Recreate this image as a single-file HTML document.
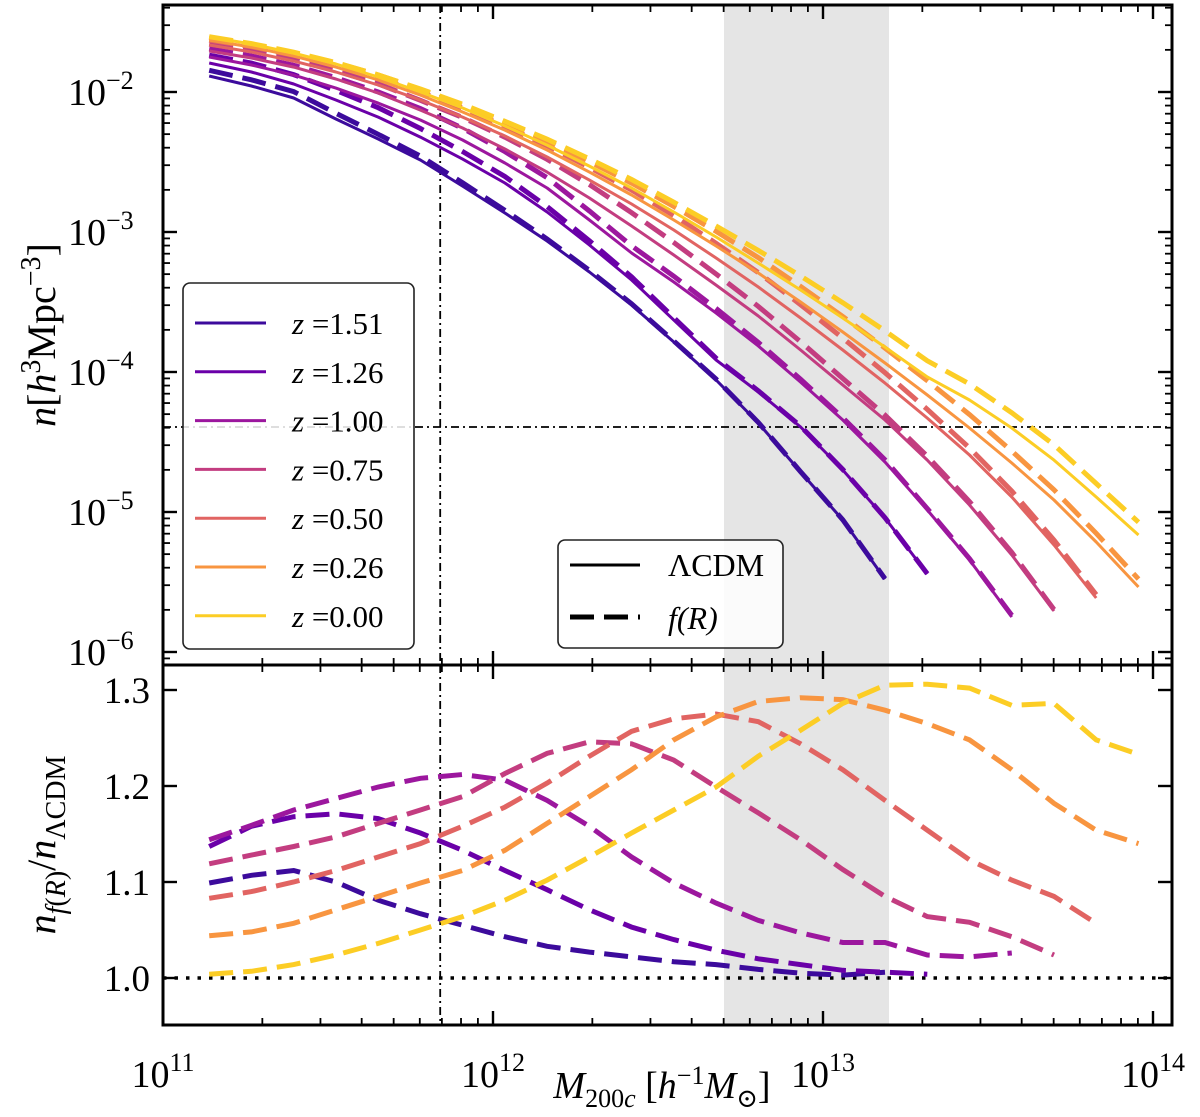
<!DOCTYPE html>
<html><head><meta charset="utf-8"><style>
html,body{margin:0;padding:0;background:#fff;}
svg{display:block;font-family:"Liberation Serif","DejaVu Serif",serif;}
</style></head><body>
<svg id="chart" width="1200" height="1117" viewBox="0 0 1200 1117" xmlns="http://www.w3.org/2000/svg">
<defs>
<clipPath id="clipTop"><rect x="163" y="5" width="1009" height="660"/></clipPath>
<clipPath id="clipBot"><rect x="163" y="665" width="1009" height="360"/></clipPath>
</defs>
<g id="topPanel"></g>
<g id="botPanel"></g>
<g id="axes"></g>
</svg>
<script>
const redshifts = ["1.51","1.26","1.00","0.75","0.50","0.26","0.00"];
const colors = ["#3c0b9c","#6a00a8","#9c179e","#c33d80","#e16462","#f89540","#fccd25"];
const massStart = 11.14;
const massStep = 0.128;
const lcdm151 = [-1.886,-1.957,-2.043,-2.193,-2.336,-2.486,-2.672,-2.864,-3.064,-3.286,-3.522,-3.786,-4.057,-4.364,-4.714,-5.057,-5.479];
const lcdm126 = [-1.793,-1.857,-1.943,-2.057,-2.179,-2.322,-2.479,-2.65,-2.857,-3.093,-3.343,-3.629,-3.914,-4.143,-4.393,-4.7,-5.043,-5.443];
const lcdm100 = [-1.75,-1.807,-1.879,-1.972,-2.079,-2.2,-2.343,-2.507,-2.686,-2.914,-3.15,-3.357,-3.579,-3.814,-4.072,-4.343,-4.643,-4.986,-5.343,-5.75];
const lcdm075 = [-1.707,-1.757,-1.822,-1.907,-2.007,-2.129,-2.257,-2.407,-2.572,-2.757,-2.957,-3.164,-3.379,-3.6,-3.843,-4.093,-4.343,-4.629,-4.95,-5.307,-5.707];
const lcdm050 = [-1.664,-1.714,-1.779,-1.857,-1.95,-2.057,-2.179,-2.314,-2.464,-2.629,-2.8,-2.986,-3.186,-3.393,-3.614,-3.843,-4.079,-4.329,-4.593,-4.893,-5.236,-5.614];
const lcdm026 = [-1.629,-1.679,-1.743,-1.822,-1.914,-2.022,-2.143,-2.272,-2.414,-2.572,-2.736,-2.914,-3.1,-3.293,-3.5,-3.714,-3.936,-4.164,-4.4,-4.65,-4.914,-5.214,-5.536];
const lcdm000 = [-1.607,-1.657,-1.722,-1.8,-1.893,-2.0,-2.114,-2.243,-2.379,-2.529,-2.686,-2.857,-3.036,-3.222,-3.414,-3.614,-3.822,-4.036,-4.2,-4.4,-4.629,-4.893,-5.164];
const ratio151 = [1.099,1.107,1.112,1.100,1.081,1.067,1.055,1.043,1.033,1.027,1.022,1.017,1.014,1.009,1.005,1.003,1.006];
const ratio126 = [1.137,1.158,1.168,1.171,1.166,1.151,1.133,1.112,1.092,1.071,1.053,1.040,1.029,1.020,1.014,1.008,1.006,1.004];
const ratio100 = [1.144,1.159,1.175,1.187,1.199,1.208,1.212,1.206,1.185,1.158,1.126,1.099,1.078,1.060,1.047,1.037,1.037,1.024,1.022,1.026];
const ratio075 = [1.119,1.128,1.137,1.147,1.161,1.175,1.189,1.213,1.234,1.246,1.244,1.227,1.199,1.172,1.144,1.113,1.085,1.064,1.058,1.043,1.024];
const ratio050 = [1.083,1.090,1.100,1.112,1.126,1.140,1.158,1.178,1.203,1.231,1.257,1.270,1.275,1.267,1.244,1.217,1.185,1.154,1.123,1.102,1.085,1.057];
const ratio026 = [1.044,1.048,1.057,1.071,1.085,1.099,1.112,1.133,1.161,1.189,1.217,1.248,1.272,1.288,1.292,1.290,1.279,1.265,1.248,1.217,1.182,1.154,1.140];
const ratio000 = [1.004,1.007,1.014,1.024,1.036,1.050,1.064,1.081,1.102,1.126,1.151,1.175,1.199,1.231,1.258,1.286,1.305,1.306,1.302,1.284,1.286,1.248,1.233];
const xTickExps = ["11","12","13","14"];
const yTopTickExps = ["−2","−3","−4","−5","−6"];
const yBotTicks = [1.0,1.1,1.2,1.3];
const bandRange = [12.7, 13.2];
const vLineMass = 11.84;
const hLineDensity = -4.393;

const lcdmSets = [lcdm151,lcdm126,lcdm100,lcdm075,lcdm050,lcdm026,lcdm000];
const ratioSets = [ratio151,ratio126,ratio100,ratio075,ratio050,ratio026,ratio000];

const NS = "http://www.w3.org/2000/svg";
const X0=163, X1=1172, YT0=5, YT1=665, YB1=1025;
function xS(m){return 163+330*(m-11);}
function yT(l){return 92+140*(-2-l);}
function yB(r){return 978-960*(r-1);}
function mk(tag, attrs, parent){const e=document.createElementNS(NS,tag);for(const k in attrs)e.setAttribute(k,attrs[k]);parent.appendChild(e);return e;}

const topG=document.getElementById('topPanel');
const botG=document.getElementById('botPanel');
const axesG=document.getElementById('axes');

let b1=mk('rect',{x:xS(bandRange[0]),y:YT0,width:xS(bandRange[1])-xS(bandRange[0]),height:YT1-YT0,fill:'#e5e5e5'},topG);


let b2=mk('rect',{x:xS(bandRange[0]),y:YT1,width:xS(bandRange[1])-xS(bandRange[0]),height:YB1-YT1,fill:'#e5e5e5'},botG);



let v1=mk('line',{x1:xS(vLineMass),x2:xS(vLineMass),y1:YT0,y2:YT1,stroke:'#000','stroke-width':1.8,'stroke-dasharray':'8,4,2,4'},topG);


let v2=mk('line',{x1:xS(vLineMass),x2:xS(vLineMass),y1:YT1,y2:YB1,stroke:'#000','stroke-width':1.8,'stroke-dasharray':'8,4,2,4'},botG);


let h1=mk('line',{x1:X0,x2:X1,y1:yT(hLineDensity),y2:yT(hLineDensity),stroke:'#000','stroke-width':1.8,'stroke-dasharray':'8,4,2,4'},topG);


let h2=mk('line',{x1:X0,x2:X1,y1:yB(1),y2:yB(1),stroke:'#000','stroke-width':3.5,'stroke-dasharray':'3.5,8'},botG);



const gT=mk('g',{'clip-path':'url(#clipTop)'},topG);
const gB=mk('g',{'clip-path':'url(#clipBot)'},botG);
for(let s=0;s<redshifts.length;s++){
  const L=lcdmSets[s], R=ratioSets[s];
  let ps=[],pd=[],pr=[];
  for(let i=0;i<L.length;i++){
    const m=massStart+massStep*i;
    ps.push(xS(m).toFixed(1)+','+yT(L[i]).toFixed(1));
    pd.push(xS(m).toFixed(1)+','+yT(L[i]+Math.log10(R[i])).toFixed(1));
  }
  for(let i=0;i<R.length;i++){
    const m=massStart+massStep*i;
    pr.push(xS(m).toFixed(1)+','+yB(R[i]).toFixed(1));
  }
  let sl=mk('polyline',{points:ps.join(' '),fill:'none',stroke:colors[s],'stroke-width':3,'stroke-linejoin':'round'},gT);
  
  
  let dl=mk('polyline',{points:pd.join(' '),fill:'none',stroke:colors[s],'stroke-width':5,'stroke-dasharray':'24,10'},gT);
  
  
  let rl=mk('polyline',{points:pr.join(' '),fill:'none',stroke:colors[s],'stroke-width':5,'stroke-dasharray':'24,10'},gB);
  
  
}

let f1=mk('rect',{x:X0,y:YT0,width:X1-X0,height:YT1-YT0,fill:'none',stroke:'#000','stroke-width':3},axesG);


let f2=mk('rect',{x:X0,y:YT1,width:X1-X0,height:YB1-YT1,fill:'none',stroke:'#000','stroke-width':3},axesG);



function tick(x1,y1,x2,y2,w){mk('line',{x1:x1,y1:y1,x2:x2,y2:y2,stroke:'#000','stroke-width':w},axesG);}
for(let d=11;d<=14;d++){
  for(let k=1;k<=9;k++){
    const m=d+Math.log10(k); const x=xS(m);
    if(x<X0-0.5||x>X1+0.5)continue;
    const len=k===1?14:7, w=k===1?2.4:1.8;
    tick(x,YT0,x,YT0+len,w); tick(x,YT1,x,YT1-len,w);
    tick(x,YT1,x,YT1+len,w); tick(x,YB1,x,YB1-len,w);
  }
}
for(let d=-7;d<=-1;d++){
  for(let k=1;k<=9;k++){
    const l=d+Math.log10(k); const y=yT(l);
    if(y<YT0||y>YT1)continue;
    const len=k===1?14:7, w=k===1?2.4:1.8;
    tick(X0,y,X0+len,y,w); tick(X1,y,X1-len,y,w);
  }
}
yBotTicks.forEach(v=>{const y=yB(v);tick(X0,y,X0+14,y,2.4);tick(X1,y,X1-14,y,2.4);});

xTickExps.forEach((e,i)=>{
  const x=xS(11+i);
  const t=mk('text',{x:x,y:1087,'font-size':38,'text-anchor':'middle'},axesG);
  
  
  t.innerHTML='10<tspan dy="-16" font-size="26">'+e+'</tspan>';
});
yTopTickExps.forEach((e,i)=>{
  const y=yT(-2-i);
  const t=mk('text',{x:68,y:y+13,'font-size':38},axesG);
  
  
  t.innerHTML='10<tspan dy="-16" font-size="26">'+e+'</tspan>';
});
yBotTicks.forEach(v=>{
  const t=mk('text',{x:150,y:yB(v)+13,'font-size':37,'text-anchor':'end'},axesG);
  
  
  t.textContent=v.toFixed(1);
});

const lg=mk('g',{},axesG);


mk('rect',{x:183,y:283,width:231,height:366,rx:7,fill:'#fff','fill-opacity':0.85,stroke:'#222','stroke-width':1.6},lg);
redshifts.forEach((z,i)=>{
  const y=323+i*48.8;
  const e=mk('g',{},lg);
  
  
  mk('line',{x1:195,x2:266,y1:y,y2:y,stroke:colors[i],'stroke-width':3},e);
  const t=mk('text',{x:292,y:y+11,'font-size':31},e);
  t.innerHTML='<tspan font-style="italic">z</tspan> =' + z;
});
const lg2=mk('g',{},axesG);


mk('rect',{x:558,y:540,width:225,height:108,rx:7,fill:'#fff','fill-opacity':0.85,stroke:'#222','stroke-width':1.6},lg2);
let e1=mk('g',{},lg2);


mk('line',{x1:570,x2:640,y1:565,y2:565,stroke:'#000','stroke-width':3},e1);
mk('text',{x:668,y:576,'font-size':32},e1).textContent='ΛCDM';
let e2=mk('g',{},lg2);


mk('line',{x1:570,x2:640,y1:617,y2:617,stroke:'#000','stroke-width':5,'stroke-dasharray':'24,10'},e2);
mk('text',{x:668,y:629,'font-size':32,'font-style':'italic'},e2).textContent='f(R)';

const yt=mk('text',{x:0,y:0,'font-size':40,transform:'translate(55,335) rotate(-90)','text-anchor':'middle'},axesG);


yt.innerHTML='<tspan font-style="italic">n</tspan>[<tspan font-style="italic">h</tspan><tspan dy="-15" font-size="28">3</tspan><tspan dy="15">Mpc</tspan><tspan dy="-15" font-size="28">−3</tspan><tspan dy="15">]</tspan>';
const yb=mk('text',{x:0,y:0,'font-size':40,transform:'translate(55,845) rotate(-90)','text-anchor':'middle'},axesG);


yb.innerHTML='<tspan font-style="italic">n</tspan><tspan dy="10" font-size="28" font-style="italic">f</tspan><tspan font-size="28">(</tspan><tspan font-size="28" font-style="italic">R</tspan><tspan font-size="28">)</tspan><tspan dy="-10">/</tspan><tspan font-style="italic">n</tspan><tspan dy="10" font-size="28">ΛCDM</tspan>';
const xt=mk('text',{x:662,y:1098,'font-size':38,'text-anchor':'middle'},axesG);


xt.innerHTML='<tspan font-style="italic">M</tspan><tspan dy="9" font-size="26">200<tspan font-style="italic">c</tspan></tspan><tspan dy="-9"> [</tspan><tspan font-style="italic">h</tspan><tspan dy="-14" font-size="26">−1</tspan><tspan dy="14" font-style="italic">M</tspan><tspan dy="9" font-size="26">⊙</tspan><tspan dy="-9">]</tspan>';
</script>
</body></html>
